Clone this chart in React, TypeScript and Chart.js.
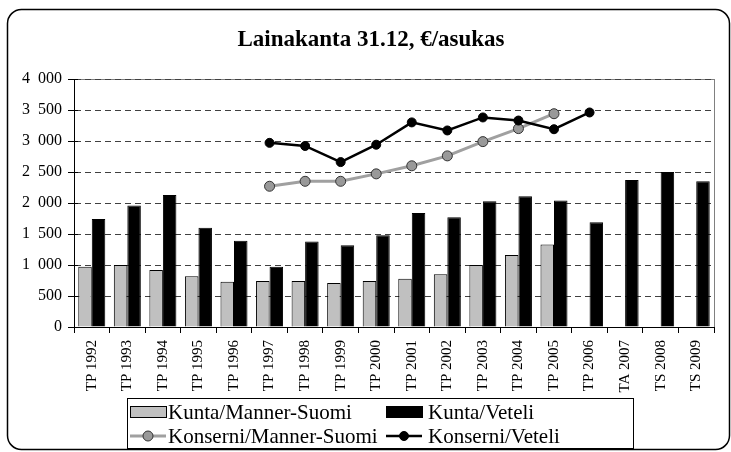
import React, { useEffect, useRef } from "react";
import { Chart, registerables } from "chart.js";

Chart.register(...registerables);

const chartTitle = "Lainakanta 31.12, €/asukas";

const categories = [
  "TP 1992", "TP 1993", "TP 1994", "TP 1995", "TP 1996", "TP 1997", "TP 1998", "TP 1999",
  "TP 2000", "TP 2001", "TP 2002", "TP 2003", "TP 2004", "TP 2005", "TP 2006", "TA 2007",
  "TS 2008", "TS 2009",
];

const kuntaMannerSuomi = [970, 1000, 920, 820, 730, 740, 740, 710, 740, 780, 850, 1000, 1160, 1330, null, null, null, null];
const kuntaVeteli = [1740, 1960, 2130, 1600, 1390, 970, 1380, 1320, 1480, 1840, 1770, 2030, 2110, 2040, 1690, 2370, 2500, 2350];
const konserniMannerSuomi = [null, null, null, null, null, 2270, 2350, 2350, 2470, 2600, 2760, 2990, 3200, 3440, null, null, null, null];
const konserniVeteli = [null, null, null, null, null, 2970, 2920, 2660, 2940, 3300, 3170, 3380, 3330, 3190, 3460, null, null, null];

const yMin = 0;
const yMax = 4000;
const yStep = 500;

const SERIF = '"Liberation Serif", "Times New Roman", serif';

function formatTick(v: number): string {
  if (v >= 1000) {
    const th = Math.floor(v / 1000);
    const rest = String(v % 1000).padStart(3, "0");
    return th + "\u2002" + rest;
  }
  return String(v);
}

const decorPlugin = {
  id: "decor",
  beforeDraw(chart: any) {
    const ctx = chart.ctx as CanvasRenderingContext2D;
    ctx.save();
    ctx.fillStyle = "#ffffff";
    ctx.fillRect(0, 0, chart.width, chart.height);
    // outer rounded frame
    const fx = 7.5, fy = 9.5, fw = 722, fh = 440, r = 14;
    ctx.beginPath();
    ctx.moveTo(fx + r, fy);
    ctx.lineTo(fx + fw - r, fy);
    ctx.arcTo(fx + fw, fy, fx + fw, fy + r, r);
    ctx.lineTo(fx + fw, fy + fh - r);
    ctx.arcTo(fx + fw, fy + fh, fx + fw - r, fy + fh, r);
    ctx.lineTo(fx + r, fy + fh);
    ctx.arcTo(fx, fy + fh, fx, fy + fh - r, r);
    ctx.lineTo(fx, fy + r);
    ctx.arcTo(fx, fy, fx + r, fy, r);
    ctx.closePath();
    ctx.strokeStyle = "#000";
    ctx.lineWidth = 1.5;
    ctx.stroke();
    // plot area border
    const { left, top, right, bottom } = chart.chartArea;
    ctx.strokeStyle = "#808080";
    ctx.lineWidth = 1;
    ctx.strokeRect(Math.round(left) + 0.5, Math.round(top) + 0.5, Math.round(right - left), Math.round(bottom - top));
    // title
    ctx.fillStyle = "#000";
    ctx.font = "bold 23px " + SERIF;
    ctx.textAlign = "center";
    ctx.textBaseline = "middle";
    ctx.fillText(chartTitle, 371, 40);
    ctx.restore();
  },
  afterDraw(chart: any) {
    const ctx = chart.ctx as CanvasRenderingContext2D;
    const { left } = chart.chartArea;
    const yScale = chart.scales.y;
    ctx.save();
    // crossing tick marks on y axis (inside part)
    ctx.strokeStyle = "#000";
    ctx.lineWidth = 1;
    yScale.ticks.forEach((t: any) => {
      const py = Math.round(yScale.getPixelForValue(t.value)) + 0.5;
      ctx.beginPath();
      ctx.moveTo(left, py);
      ctx.lineTo(left + 4, py);
      ctx.stroke();
    });
    // legend
    const bx = 127.5, by = 398.5, bw = 506, bh = 50;
    ctx.fillStyle = "#fff";
    ctx.fillRect(bx, by, bw, bh);
    ctx.strokeStyle = "#000";
    ctx.lineWidth = 1;
    ctx.strokeRect(bx, by, bw, bh);
    const colSym = [130, 386];
    const colText = [168, 428];
    const rows = [412, 436];
    ctx.font = "21px " + SERIF;
    ctx.textAlign = "left";
    ctx.textBaseline = "middle";
    chart.data.datasets.forEach((ds: any, i: number) => {
      const col = i % 2;
      const row = Math.floor(i / 2);
      const sx = colSym[col];
      const sy = rows[row];
      if (ds.type === "line") {
        ctx.strokeStyle = ds.borderColor;
        ctx.lineWidth = ds.borderWidth;
        ctx.beginPath();
        ctx.moveTo(sx, sy);
        ctx.lineTo(sx + 36, sy);
        ctx.stroke();
        ctx.beginPath();
        ctx.arc(sx + 18, sy, ds.pointRadius, 0, Math.PI * 2);
        ctx.fillStyle = ds.pointBackgroundColor;
        ctx.fill();
        ctx.strokeStyle = ds.pointBorderColor;
        ctx.lineWidth = ds.pointBorderWidth;
        ctx.stroke();
      } else {
        ctx.fillStyle = ds.backgroundColor;
        ctx.fillRect(sx + 0.5, sy - 5.5, 36, 11);
        ctx.strokeStyle = "#000";
        ctx.lineWidth = 1;
        ctx.strokeRect(sx + 0.5, sy - 5.5, 36, 11);
      }
      ctx.fillStyle = "#000";
      ctx.fillText(ds.label, colText[col], sy + 1);
    });
    ctx.restore();
  },
};

export default function App() {
  const canvasRef = useRef<HTMLCanvasElement | null>(null);

  useEffect(() => {
    if (!canvasRef.current) return;
    const chart = new Chart(canvasRef.current, {
      type: "bar",
      data: {
        labels: categories,
        datasets: [
          {
            type: "bar",
            label: "Kunta/Manner-Suomi",
            data: kuntaMannerSuomi,
            backgroundColor: "#c0c0c0",
            borderColor: "#000",
            borderWidth: 1,
            categoryPercentage: 0.76,
            barPercentage: 1.0,
            order: 2,
          },
          {
            type: "bar",
            label: "Kunta/Veteli",
            data: kuntaVeteli,
            backgroundColor: "#000000",
            borderColor: "#000",
            borderWidth: 1,
            categoryPercentage: 0.76,
            barPercentage: 1.0,
            order: 2,
          },
          {
            type: "line",
            label: "Konserni/Manner-Suomi",
            data: konserniMannerSuomi,
            borderColor: "#a0a0a0",
            borderWidth: 3,
            pointRadius: 5,
            pointBackgroundColor: "#999999",
            pointBorderColor: "#333333",
            pointBorderWidth: 1,
            spanGaps: false,
            order: 1,
          } as any,
          {
            type: "line",
            label: "Konserni/Veteli",
            data: konserniVeteli,
            borderColor: "#000000",
            borderWidth: 2.5,
            pointRadius: 4.5,
            pointBackgroundColor: "#000000",
            pointBorderColor: "#000000",
            pointBorderWidth: 1,
            spanGaps: false,
            order: 0,
          } as any,
        ],
      },
      options: {
        responsive: false,
        animation: false,
        events: [],
        layout: { padding: { left: 0, right: 17, top: 79, bottom: 0 } },
        plugins: {
          legend: { display: false },
          title: { display: false },
          tooltip: { enabled: false },
        },
        scales: {
          x: {
            offset: true,
            grid: {
              display: true,
              offset: true,
              drawOnChartArea: false,
              drawTicks: true,
              tickLength: 6,
              color: "#000",
              tickColor: "#000",
            },
            border: { display: true, color: "#000", width: 1 },
            ticks: {
              autoSkip: false,
              minRotation: 90,
              maxRotation: 90,
              padding: 7,
              color: "#000",
              font: { family: SERIF, size: 15 },
            },
            afterFit(scale: any) {
              scale.height = 125;
            },
          },
          y: {
            min: yMin,
            max: yMax,
            grid: {
              display: true,
              drawOnChartArea: true,
              drawTicks: true,
              tickLength: 6,
              color: (c: any) => (c.tick && c.tick.value === 0 ? "rgba(0,0,0,0)" : "#404040"),
              tickColor: "#000",
            },
            border: { display: true, color: "#000", width: 1, dash: [6, 4] },
            ticks: {
              stepSize: yStep,
              padding: 6,
              color: "#000",
              font: { family: SERIF, size: 16 },
              callback: (v: any) => formatTick(Number(v)),
            },
            afterFit(scale: any) {
              scale.width = 74;
            },
          },
        },
      },
      plugins: [decorPlugin],
    });
    return () => chart.destroy();
  }, []);

  return (
    <div style={{ position: "fixed", left: 0, top: 0, width: 731, height: 452, background: "#fff" }}>
      <canvas ref={canvasRef} width={731} height={452} style={{ display: "block" }} />
    </div>
  );
}
